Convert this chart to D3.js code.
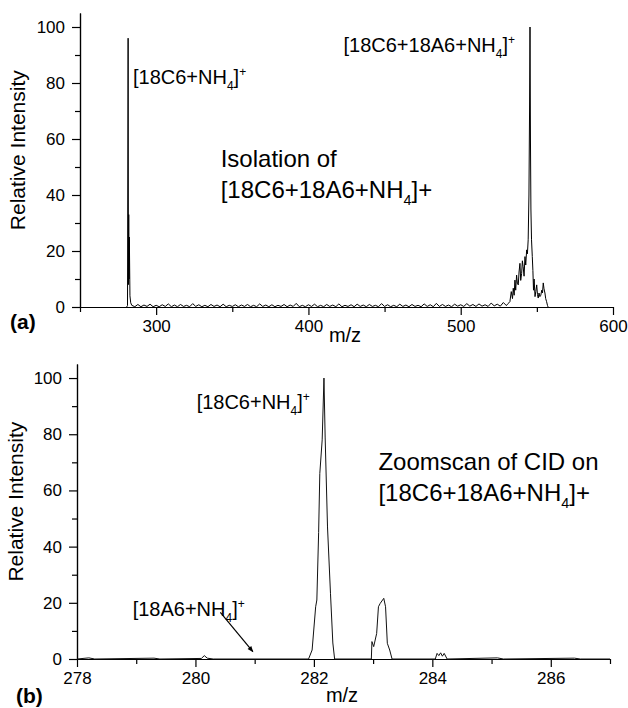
<!DOCTYPE html>
<html>
<head>
<meta charset="utf-8">
<script src="https://cdn.jsdelivr.net/npm/d3@7"></script>
<style>
	body { margin: 0; background: #fff; }
	svg { display: block; font-family: 'Liberation Sans', Arial, sans-serif; }
	.axis path, .axis line { stroke: #000; stroke-width: 1.2; }
	.axis text { font-size: 17px; fill: #000; font-family: 'Liberation Sans', Arial, sans-serif; }
</style>
</head>
<body>
<script>
// (a) isolation scan, m/z vs relative intensity
const scan_mz = [
	280.6, 281.2, 281.6, 281.8, 282.0, 282.2, 282.4, 282.8, 283.3, 284,
	286, 288, 290, 292, 294, 296, 298, 300, 302, 304, 306, 308, 310, 312, 314, 316, 318, 320,
	322, 324, 326, 328, 330, 332, 334, 336, 338, 340, 342, 344, 346, 348, 350, 352, 354, 356,
	358, 360, 362, 364, 366, 368, 370, 372, 374, 376, 378, 380, 382, 384, 386, 388, 390, 392,
	394, 396, 398, 400, 402, 404, 406, 408, 410, 412, 414, 416, 418, 420, 422, 424, 426, 428,
	430, 432, 434, 436, 438, 440, 442, 444, 446, 448, 450, 452, 454, 456, 458, 460, 462, 464,
	466, 468, 470, 472, 474, 476, 478, 480, 482, 484, 486, 488, 490, 492, 494, 496, 498, 500,
	502, 504, 506, 508, 510, 512, 514, 516, 518, 520, 522, 524, 526, 528, 530, 531,
	532.3, 533.2, 534.0, 534.5, 535.1, 535.6, 536.1, 536.7, 537.2, 537.8, 538.3, 538.9, 539.4,
	540.0, 540.5, 541.0, 541.6, 542.2, 542.7, 543.3, 543.8, 544.3, 544.8, 545.2, 545.5, 545.8,
	546.1, 546.5, 547.0, 547.4, 547.8, 548.2, 548.8, 549.3, 549.9, 550.4, 550.9, 551.4, 552.0,
	552.6, 553.2, 553.7, 554.2, 554.7, 555.3, 555.8, 556.4, 557.0, 557.4
]
const scan_int = [
	0, 0.5, 96, 8, 33, 10, 25, 4, 1.5, 0.6,
	0.1, 0.9, 0.1, 0.7, 0.2, 1.0, 0.1, 0.6, 0.1, 0.8, 0.2, 1.1, 0.1, 0.7, 0.1, 0.9, 0.2, 0.6,
	0.1, 1.2, 0.2, 0.8, 0.1, 0.6, 0.1, 0.9, 0.2, 0.7, 0.1, 1.0, 0.1, 0.6, 0.2, 0.8, 0.1, 0.7,
	0.2, 0.9, 0.1, 0.6, 0.1, 1.1, 0.2, 0.7, 0.1, 0.8, 0.1, 0.6, 0.2, 0.9, 0.1, 0.7, 0.2, 1.3,
	0.1, 0.6, 0.1, 0.8, 0.2, 1.0, 0.1, 0.6, 0.1, 0.9, 0.2, 0.7, 0.1, 1.1, 0.1, 0.6, 0.2, 0.8,
	0.1, 1.0, 0.2, 0.7, 0.1, 0.9, 0.2, 0.6, 0.1, 1.2, 0.2, 0.8, 0.1, 0.6, 0.1, 1.0, 0.2, 0.7,
	0.1, 0.9, 0.2, 0.6, 0.1, 1.1, 0.2, 0.8, 0.1, 1.3, 0.2, 0.9, 0.2, 0.7, 0.1, 1.0, 0.3, 0.8,
	0.2, 1.2, 0.3, 0.9, 0.2, 1.1, 0.3, 0.8, 0.2, 1.4, 0.4, 1.0, 0.3, 1.6, 0.5, 1.2,
	1.9, 5.5, 3.0, 6.7, 4.2, 9.6, 6.0, 11.4, 8.5, 7.9, 12.5, 15.6, 9.5,
	12.0, 16.5, 14.4, 11.0, 18.0, 15.0, 20.4, 19.0, 24.0, 40, 70, 100, 60,
	35, 24, 18, 13, 6, 10, 3.7, 5.5, 7.9, 4.5, 3.2, 5.0, 3.7,
	4.2, 6.0, 5.0, 8.6, 6.5, 5.0, 3.0, 1.9, 0.5, 0
]

// (b) zoomscan of the CID products
const zoom_mz = [
	278.0, 278.2, 278.3, 279.3, 279.4, 280.1, 280.15, 280.2, 280.3,
	281.91, 281.97, 282.03, 282.05, 282.08, 282.10, 282.14, 282.17, 282.19, 282.23, 282.28, 282.32, 282.35,
	282.97, 282.98, 283.01, 283.06, 283.09, 283.12, 283.18, 283.21, 283.24, 283.28, 283.32,
	284.05, 284.08, 284.11, 284.14, 284.17, 284.2, 284.25,
	285.1, 285.2, 286.4, 286.5, 287.0
]
const zoom_int = [
	0, 0.4, 0, 0.3, 0, 0.2, 1.2, 0.3, 0,
	0, 3.2, 18.6, 21, 45, 66, 78, 100, 79, 47, 23.4, 5.7, 0,
	0, 6.2, 4.4, 9.1, 18.6, 19.8, 21.6, 18.6, 5.6, 3.2, 0,
	0, 2, 1.2, 2.2, 1.0, 2, 0,
	0.4, 0, 0.3, 0, 0
]

const scan_ticks = [300, 400, 500, 600]
const scan_minor = [250, 350, 450, 550]
const zoom_ticks = [278, 280, 282, 284, 286]
const zoom_minor = [279, 281, 283, 285, 287]
const y_ticks = [0, 20, 40, 60, 80, 100]
const y_minor = [10, 30, 50, 70, 90]

const lbl_c6 = [['[18C6+NH'], ['4', 'sub'], [']'], ['+', 'sup']]
const lbl_dimer = [['[18C6+18A6+NH'], ['4', 'sub'], [']'], ['+', 'sup']]
const lbl_a6 = [['[18A6+NH'], ['4', 'sub'], [']'], ['+', 'sup']]
const lbl_dimer_plain = [['[18C6+18A6+NH'], ['4', 'sub'], [']+']]

const W = 628, H = 708

const $svg = d3.select('body').append('svg')
	.attr('width', W)
	.attr('height', H)

function rich($text, parts, size) {
	let shift = 0
	parts.forEach(([t, kind]) => {
		const target = kind == 'sub' ? size * 0.3 : kind == 'sup' ? -size * 0.42 : 0
		const $ts = $text.append('tspan')
			.text(t)
			.attr('dy', target - shift)
		if (kind) $ts.attr('font-size', size * 0.6)
		shift = target
	})
}

function panel(o) {
	const x = d3.scaleLinear().domain(o.xdom).range(o.xr)
	const y = d3.scaleLinear().domain([0, 105]).range(o.yr)
	const $g = $svg.append('g')

	// axes, major + minor ticks
	$g.append('g').attr('class', 'axis')
		.attr('transform', `translate(0, ${o.yr[0]})`)
		.call(d3.axisBottom(x).tickValues(o.minor).tickSize(5).tickSizeOuter(0).tickFormat(''))
	$g.append('g').attr('class', 'axis')
		.attr('transform', `translate(0, ${o.yr[0]})`)
		.call(d3.axisBottom(x).tickValues(o.ticks).tickSize(8).tickSizeOuter(0).tickPadding(5))
	$g.append('g').attr('class', 'axis')
		.attr('transform', `translate(${o.xr[0]}, 0)`)
		.call(d3.axisLeft(y).tickValues(y_minor).tickSize(5).tickSizeOuter(0).tickFormat(''))
	$g.append('g').attr('class', 'axis')
		.attr('transform', `translate(${o.xr[0]}, 0)`)
		.call(d3.axisLeft(y).tickValues(y_ticks).tickSize(8).tickSizeOuter(0).tickPadding(7))

	// spectrum
	const line = d3.line()
		.x(i => x(o.mz[i]))
		.y(i => y(o.int[i]))
	$g.append('path')
		.datum(d3.range(o.mz.length))
		.attr('d', line)
		.attr('fill', 'none')
		.attr('stroke', o.stroke)
		.attr('stroke-width', o.sw)
		.attr('stroke-linejoin', 'round')

	// axis titles
	$g.append('text')
		.attr('transform', `translate(${o.ytx}, ${y(56)}) rotate(-90)`)
		.attr('text-anchor', 'middle')
		.attr('font-size', 21)
		.text('Relative Intensity')
	$g.append('text')
		.attr('x', o.mzx)
		.attr('y', o.yr[0] + o.mzdy)
		.attr('text-anchor', 'middle')
		.attr('font-size', 20)
		.text('m/z')
	$g.append('text')
		.attr('x', o.tagx)
		.attr('y', o.yr[0] + o.tagdy)
		.attr('font-size', 21)
		.attr('font-weight', 'bold')
		.text(o.tag)

	// peak labels
	o.labels.forEach(l => {
		const $t = $g.append('text')
			.attr('x', x(l.at[0]))
			.attr('y', y(l.at[1]))
			.attr('font-size', l.size)
		rich($t, l.parts, l.size)
	})

	// description
	const $d = $g.append('text')
		.attr('x', x(o.note.at[0]))
		.attr('y', y(o.note.at[1]))
		.attr('font-size', 24)
	$d.append('tspan').text(o.note.first)
	const $d2 = $g.append('text')
		.attr('x', x(o.note.at[0]))
		.attr('y', y(o.note.at[1]) + 31)
		.attr('font-size', 24)
	rich($d2, lbl_dimer_plain, 24)

	return {x, y, $g}
}

const a = panel({
	xdom: [250, 600], xr: [80, 613], yr: [307, 13],
	mz: scan_mz, int: scan_int, stroke: '#000', sw: 1,
	ticks: scan_ticks, minor: scan_minor,
	ytx: 25, mzx: 345, mzdy: 35, tagx: 10, tagdy: 22, tag: '(a)',
	labels: [
		{at: [284.8, 79.5], parts: lbl_c6, size: 20},
		{at: [423, 91], parts: lbl_dimer, size: 20}
	],
	note: {at: [342.4, 50], first: 'Isolation of'}
})

const b = panel({
	xdom: [278, 287], xr: [77, 610], yr: [659, 364],
	mz: zoom_mz, int: zoom_int, stroke: '#111', sw: 1,
	ticks: zoom_ticks, minor: zoom_minor,
	ytx: 23, mzx: 342, mzdy: 43, tagx: 16, tagdy: 44, tag: '(b)',
	labels: [
		{at: [280.02, 89], parts: lbl_c6, size: 20},
		{at: [278.94, 15.3], parts: lbl_a6, size: 20}
	],
	note: {at: [283.09, 67.3], first: 'Zoomscan of CID on'}
})

// arrow to the [18A6+NH4]+ position
$svg.append('defs').append('marker')
	.attr('id', 'head')
	.attr('viewBox', '0 0 10 10')
	.attr('refX', 9).attr('refY', 5)
	.attr('markerWidth', 7).attr('markerHeight', 5)
	.attr('orient', 'auto')
	.append('path')
	.attr('d', 'M0,1L10,5L0,9z')
	.attr('fill', '#000')

b.$g.append('line')
	.attr('x1', b.x(280.42)).attr('y1', b.y(16.6))
	.attr('x2', b.x(280.97)).attr('y2', b.y(2.6))
	.attr('stroke', '#000')
	.attr('stroke-width', 1.2)
	.attr('marker-end', 'url(#head)')
</script>
</body>
</html>
